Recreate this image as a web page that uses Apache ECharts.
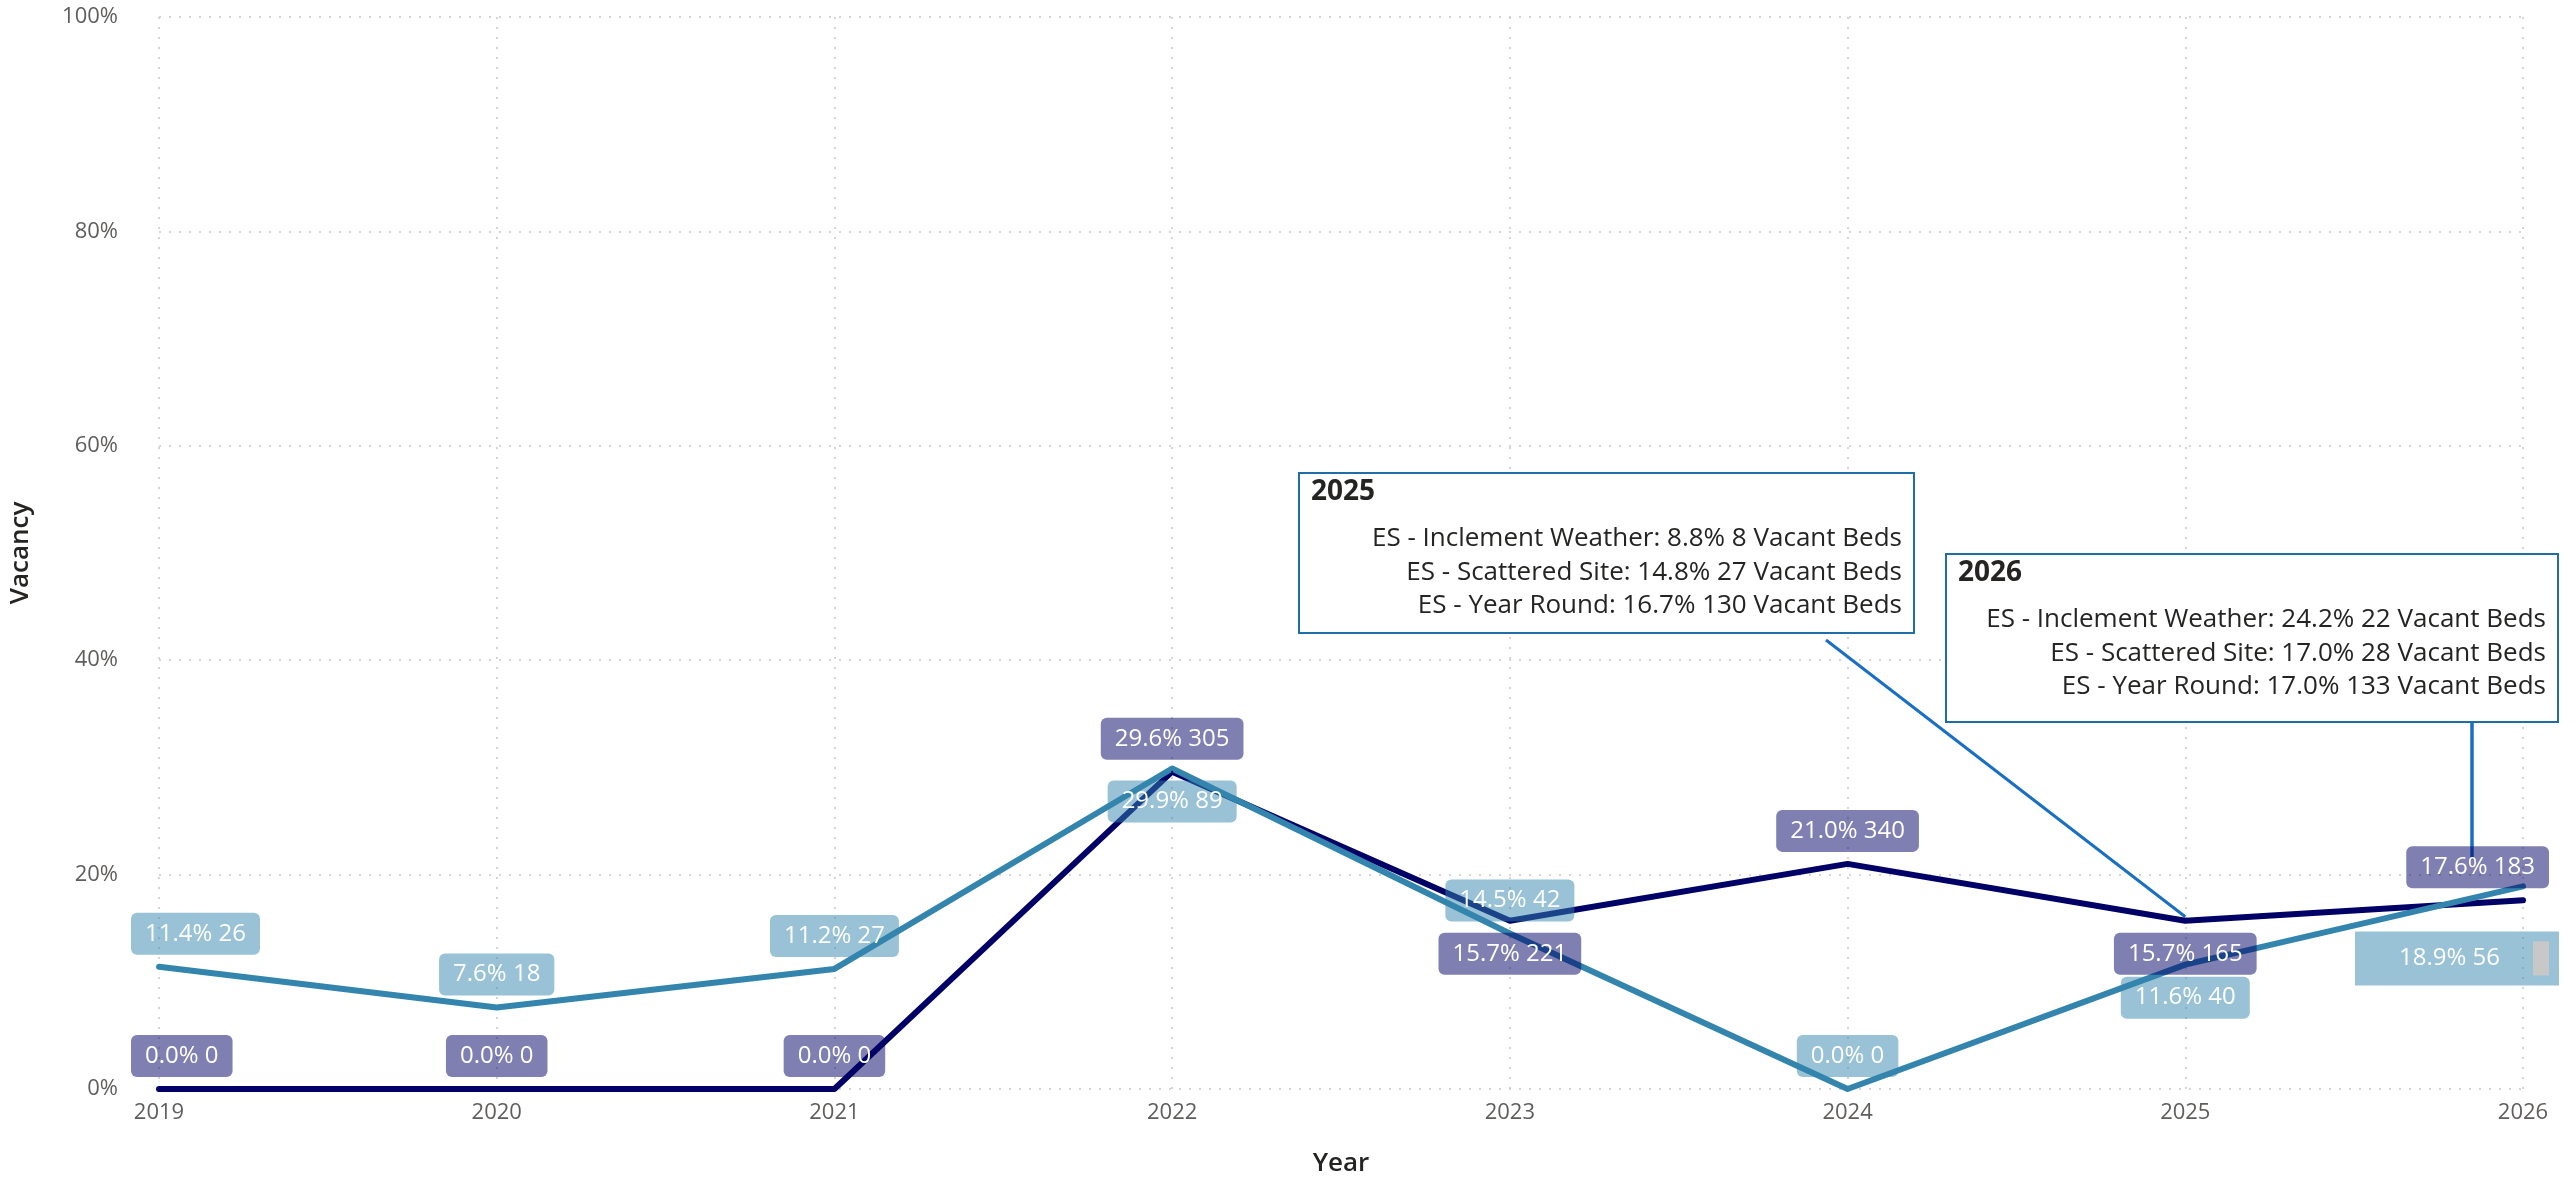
<!DOCTYPE html>
<html>
<head>
<meta charset="utf-8">
<style>
  html, body { margin: 0; padding: 0; background: #fff; }
  #chart { width: 2573px; height: 1182px; }
</style>
<script src="https://cdn.jsdelivr.net/npm/echarts@6/dist/echarts.min.js"></script>
</head>
<body>
<div id="chart"></div>
<script>
// data
const years = ['2019', '2020', '2021', '2022', '2023', '2024', '2025', '2026']
const navyPct = [0.0, 0.0, 0.0, 29.6, 15.7, 21.0, 15.7, 17.6]
const navyBeds = [0, 0, 0, 305, 221, 340, 165, 183]
const tealPct = [11.4, 7.6, 11.2, 29.9, 14.5, 0.0, 11.6, 18.9]
const tealBeds = [26, 18, 27, 89, 42, 0, 40, 56]

const detail2025 = [
  ['ES - Inclement Weather', 8.8, 8],
  ['ES - Scattered Site', 14.8, 27],
  ['ES - Year Round', 16.7, 130]
]
const detail2026 = [
  ['ES - Inclement Weather', 24.2, 22],
  ['ES - Scattered Site', 17.0, 28],
  ['ES - Year Round', 17.0, 133]
]

// label placement per point
const navyLabelPos = ['top', 'top', 'top', 'top', 'bottom', 'top', 'bottom', 'top']
const tealLabelPos = ['top', 'top', 'top', 'bottom', 'top', 'top', 'bottom', 'bottom']

const NAVY = '#000066'
const TEAL = '#3385ad'
const FONT = "'Segoe UI', 'Open Sans', sans-serif"

function buildData(pct, beds, positions, fill) {
  return pct.map((v, i) => {
    const label = {
      show: true,
      position: positions[i],
      distance: 11,
      formatter: v.toFixed(1) + '% ' + beds[i],
      color: '#fff',
      fontFamily: FONT,
      fontSize: 24,
      lineHeight: 24,
      backgroundColor: fill,
      borderRadius: 6,
      padding: [9, 14, 9, 14]
    }
    if (i === 0) {
      label.align = 'left'
      label.offset = [-28, 0]
    }
    if (i === pct.length - 1) {
      label.align = 'right'
      label.offset = [26, 0]
    }
    return { value: v, label: label }
  })
}

const navyData = buildData(navyPct, navyBeds, navyLabelPos, 'rgba(0,0,102,0.5)')
const tealData = buildData(tealPct, tealBeds, tealLabelPos, 'rgba(51,133,173,0.5)')

// the last teal label sits in a squared box with a grey block
const lastTeal = tealData[tealData.length - 1]
lastTeal.label = {
  show: true,
  position: 'bottom',
  distance: 44,
  align: 'right',
  offset: [36, 0],
  formatter: '{t|' + tealPct[7].toFixed(1) + '% ' + tealBeds[7] + '}{s| }{g| }',
  backgroundColor: 'rgba(51,133,173,0.5)',
  borderRadius: 0,
  padding: [10, 10, 10, 44],
  rich: {
    t: { color: '#fff', fontFamily: FONT, fontSize: 24, height: 34 },
    s: { width: 33, height: 34 },
    g: { width: 16, height: 34, backgroundColor: '#c8c8c8' }
  }
}

const chart = echarts.init(document.getElementById('chart'))

const gridDots = { color: '#c8c8c8', width: 1.5, type: [2, 8] }

chart.setOption({
  animation: false,
  grid: { left: 153, right: 50, top: 17, bottom: 76 },
  xAxis: {
    type: 'category',
    data: years,
    boundaryGap: false,
    name: 'Year',
    nameLocation: 'middle',
    nameGap: 62,
    nameTextStyle: { color: '#252423', fontFamily: FONT, fontSize: 26, fontWeight: 600 },
    axisLine: { show: false },
    axisTick: { show: false },
    axisLabel: { color: '#605e5c', fontFamily: FONT, fontSize: 22, margin: 13 },
    splitLine: { show: true, lineStyle: gridDots }
  },
  yAxis: {
    type: 'value',
    min: 0,
    max: 100,
    interval: 20,
    name: 'Vacancy',
    nameLocation: 'middle',
    nameGap: 125,
    nameRotate: 90,
    nameTextStyle: { color: '#252423', fontFamily: FONT, fontSize: 26, fontWeight: 600 },
    axisLine: { show: false },
    axisTick: { show: false },
    axisLabel: { color: '#605e5c', fontFamily: FONT, fontSize: 22, margin: 41, formatter: '{value}%' },
    splitLine: { show: true, lineStyle: gridDots }
  },
  series: [
    {
      name: 'Series A',
      type: 'line',
      data: navyData,
      symbol: 'circle',
      symbolSize: 2,
      showSymbol: true,
      lineStyle: { color: NAVY, width: 6, cap: 'round', join: 'round' },
      itemStyle: { color: NAVY }
    },
    {
      name: 'Series B',
      type: 'line',
      data: tealData,
      symbol: 'circle',
      symbolSize: 2,
      showSymbol: true,
      lineStyle: { color: TEAL, width: 6, cap: 'round', join: 'round' },
      itemStyle: { color: TEAL }
    }
  ]
})

// hover-card style annotations for 2025 and 2026
function card(left, top, width, height, year, rows) {
  const kids = [
    {
      type: 'rect',
      shape: { x: left, y: top, width: width, height: height },
      style: { fill: '#fff', stroke: '#1f6ea6', lineWidth: 2 }
    },
    {
      type: 'text',
      style: {
        text: year, x: left + 12, y: top + 19,
        fill: '#252423', font: 'bold 28px ' + FONT,
        align: 'left', verticalAlign: 'middle'
      }
    }
  ]
  rows.forEach((r, i) => {
    kids.push({
      type: 'text',
      style: {
        text: r[0] + ': ' + r[1].toFixed(1) + '% ' + r[2] + ' Vacant Beds',
        x: left + width - 12, y: top + 66 + i * 33.5,
        fill: '#252423', font: '26px ' + FONT,
        align: 'right', verticalAlign: 'middle'
      }
    })
  })
  return kids
}

const p2025 = chart.convertToPixel({ seriesIndex: 0 }, [6, navyPct[6]])
const p2026 = chart.convertToPixel({ seriesIndex: 0 }, [7, navyPct[7]])

chart.setOption({
  graphic: [].concat(
    [{
      type: 'line',
      shape: { x1: 1826, y1: 640, x2: p2025[0], y2: p2025[1] - 4 },
      style: { stroke: '#1a6fc4', lineWidth: 3 }
    },
    {
      type: 'line',
      shape: { x1: p2026[0] - 51, y1: 722, x2: p2026[0] - 51, y2: p2026[1] - 41 },
      style: { stroke: '#1a6fc4', lineWidth: 3.5 }
    }],
    card(1299, 473, 615, 160, years[6], detail2025),
    card(1946, 554, 612, 168, years[7], detail2026)
  )
})
</script>
</body>
</html>
